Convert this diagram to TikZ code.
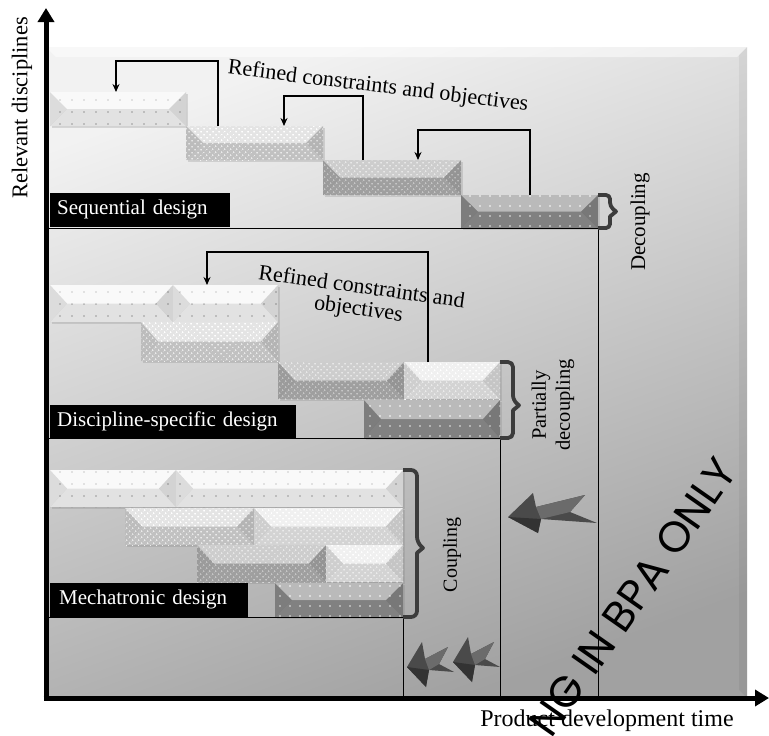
\documentclass[tikz,border=0pt]{standalone}
\usepackage{fontspec}
\setmainfont{Liberation Serif}
\newfontfamily\wmfont{Poppins}
\usepackage{xcolor}
\usetikzlibrary{arrows.meta, positioning, calc, patterns.meta, shadows}
\definecolor{barwhite}{HTML}{F6F6F6}
\definecolor{barmesh}{HTML}{D2D2D2}
\definecolor{barmeshdk}{HTML}{ADADAD}
\definecolor{barmeshlt}{HTML}{E6E6E6}
\definecolor{bardark}{HTML}{8C8C8C}
\definecolor{bracegray}{HTML}{3C3C3C}
\definecolor{dartgray}{HTML}{4A4A4A}

\begin{document}
\begin{tikzpicture}[x=1pt, y=-1pt, font=\fontsize{20}{23}\selectfont,
  barpattern/.style={},
  bar/.style={rectangle, inner sep=0pt, outer sep=0pt, anchor=north west,
    drop shadow={opacity=.25, shadow xshift=1.5pt, shadow yshift=-1.5pt},
    path picture={
      \fill[barpattern] (path picture bounding box.south west) rectangle (path picture bounding box.north east);
      \fill[white, opacity=.4] (path picture bounding box.north west) -- (path picture bounding box.north east)
        -- ([xshift=-17pt]path picture bounding box.east) -- ([xshift=17pt]path picture bounding box.west) -- cycle;
      \fill[black, opacity=.08] (path picture bounding box.south west) -- (path picture bounding box.south east)
        -- ([xshift=-17pt]path picture bounding box.east) -- ([xshift=17pt]path picture bounding box.west) -- cycle;
      \fill[black, opacity=.1] (path picture bounding box.north west) -- ([xshift=17pt]path picture bounding box.west)
        -- (path picture bounding box.south west) -- cycle;
      \fill[black, opacity=.14] (path picture bounding box.north east) -- ([xshift=-17pt]path picture bounding box.east)
        -- (path picture bounding box.south east) -- cycle;
    }},
  lite/.style={fill=barwhite, barpattern/.style={pattern={Dots[distance=12pt, radius=.8pt]}, pattern color=black!35}},
  mesh/.style={fill=barmesh, barpattern/.style={pattern={Dots[distance=4pt, angle=45, radius=1.1pt]}, pattern color=white}},
  meshdk/.style={fill=barmeshdk, barpattern/.style={pattern={Dots[distance=4pt, angle=45, radius=1.1pt]}, pattern color=white!85!black}},
  meshlt/.style={fill=barmeshlt, barpattern/.style={pattern={Dots[distance=4pt, angle=45, radius=1.1pt]}, pattern color=white}},
  dark/.style={fill=bardark, barpattern/.style={pattern={Dots[distance=10pt, radius=.9pt]}, pattern color=white}},
  tag/.style={fill=black, text=white, font=\fontsize{21}{23}\selectfont, inner xsep=7pt,
    minimum height=34pt, align=left, anchor=south west},
  fb/.style={line width=2.2pt, -{Stealth[length=8pt, width=7pt]}},
  brc/.style={line width=3.8pt, draw=bracegray, line join=round},
  sect/.style={line width=1pt},
  ax/.style={line width=5pt, -{Triangle[length=14pt, width=16pt]}},
  dart/.style={fill=dartgray},
  ]
  \useasboundingbox (0,0) rectangle (769,736);

  % background panel
  \shade[top color=black!5, bottom color=black!37, shading angle=20] (46,47) rectangle (747,698);
  \fill[white, opacity=.5] (46,47) -- (747,47) -- (737,57) -- (56,57) -- cycle;
  \fill[black, opacity=.05] (747,47) -- (747,698) -- (739,690) -- (739,55) -- cycle;
  \coordinate (o) at (46,698);

  % bars: name / left / top / width / height / kind
  \foreach \nm/\bx/\by/\bw/\bh/\kind in {
      s1/50/92/136/34/lite, s2/186/126/137/34/mesh, s3/323/160/138/35/meshdk, s4/461/195/137/33/dark,
      d1/50/285/123/37/lite, d2/173/285/105/37/lite, d3/141/322/137/39/mesh,
      d4/278/362/126/37/meshdk, d5/404/362/96/37/meshlt, d6/364/400/136/38/dark,
      m1/50/470/126/37/lite, m2/176/470/227/37/lite, m3/125/508/129/37/mesh, m4/254/508/149/37/meshlt,
      m5/197/545/129/37/meshdk, m6/326/545/77/37/meshlt, m7/275/583/128/34/dark} {
    \node[bar, \kind, minimum width=\bw pt, minimum height=\bh pt] (\nm) at (\bx,\by) {};
  }

  % section frames
  \draw[sect] (o |- s4.south east) -- (s4.south east) -- (s4.south east |- o);
  \draw[sect] (o |- d6.south east) -- (d6.south east) -- (d6.south east |- o);
  \draw[sect] (o |- m7.south east) -- (m7.south east) -- (m7.south east |- o);

  % design labels
  \node[tag, text width=166pt] (seq) at (50,227) {Sequential design};
  \node[tag, text width=232pt] (dsd) at (50,439) {Discipline-specific design};
  \node[tag, text width=180pt, inner xsep=9pt] (mech) at (50,617) {Mechatronic design};

  % feedback loops
  \draw[fb] ([xshift=32pt]s2.north west) -- ++(0,-65) -| ([xshift=66pt]s1.north west);
  \draw[fb] ([xshift=40pt]s3.north west) -- ++(0,-64) -| ([xshift=98pt]s2.north west);
  \draw[fb] ([xshift=69pt]s4.north west) -- ++(0,-65) -| ([xshift=95pt]s3.north west);
  \draw[fb] ([xshift=24pt]d5.north west) -- ++(0,-110) -| ([xshift=34pt]d2.north west);
  \node[rotate=-7, font=\fontsize{22}{24}\selectfont] (ref1) at (378,87) {Refined constraints and objectives};
  \node[rotate=-8, align=center, font=\fontsize{22}{22}\selectfont] (ref2) at (360,299) {Refined constraints and\\objectives};

  % braces
  \coordinate (pmid) at ($(d5.north east)!.57!(d6.south east)$);
  \coordinate (cmid) at ($(m2.north east)!.53!(m7.south east)$);
  \draw[brc] (s4.north east) [rounded corners=4pt] -- ++(12,0) -- ([shift={(12,-5)}]s4.east) [sharp corners]
    -- ++(6,5) -- ++(-6,5) [rounded corners=4pt] -- ([xshift=12pt]s4.south east) -- (s4.south east);
  \draw[brc] (d5.north east) [rounded corners=5pt] -- ++(13,0) -- ([shift={(13,-5)}]pmid) [sharp corners]
    -- ++(6,5) -- ++(-6,5) [rounded corners=5pt] -- ([xshift=13pt]d6.south east) -- (d6.south east);
  \draw[brc] (m2.north east) [rounded corners=6pt] -- ++(14,0) -- ([shift={(14,-5)}]cmid) [sharp corners]
    -- ++(6,5) -- ++(-6,5) [rounded corners=6pt] -- ([xshift=14pt]m7.south east) -- (m7.south east);
  \node[rotate=90, font=\fontsize{21}{23}\selectfont] (dec) at (640,222) {Decoupling};
  \node[rotate=90, align=center, font=\fontsize{20.5}{24}\selectfont] (pdec) at (553,405) {Partially\\decoupling};
  \node[rotate=90] (coup) at (452,555) {Coupling};

  % shortening arrows
  \begin{scope}[shift={(508,517)}]
    \fill[dart] (0,0) -- (25,-24) -- (28,-10) -- (77,-22) -- (62,-5) -- (89,6) -- (33,2) -- (30,16) -- cycle;
    \fill[black!58] (28,-10) -- (77,-22) -- (62,-5) -- (33,2) -- cycle;
    \fill[black!80] (0,0) -- (30,16) -- (33,2) -- cycle;
  \end{scope}
  \foreach \tx/\ty in {407/667, 453/662} {
    \begin{scope}[shift={(\tx,\ty)}]
      \fill[dart] (0,0) -- (15,-25) -- (18,-8) -- (41,-20) -- (32,-3) -- (47,5) -- (22,3) -- (19,20) -- cycle;
      \fill[black!58] (18,-8) -- (41,-20) -- (32,-3) -- (22,3) -- cycle;
      \fill[black!80] (0,0) -- (19,20) -- (22,3) -- cycle;
    \end{scope}
  }

  % axes
  \draw[ax] ([yshift=-2.5pt]o) -- (46,8);
  \draw[ax] ([xshift=-2.5pt]o) -- (769,698);
  \node[rotate=90, font=\fontsize{22.5}{24}\selectfont] (ylab) at (22,108) {Relevant disciplines};
  \node[font=\fontsize{24}{26}\selectfont] (xlab) at (607,721) {Product development time};

  % overlay
  \node[rotate=55, font=\wmfont\fontsize{43}{45}\selectfont] (wm) at (633,597) {NG IN BPA ONLY};
\end{tikzpicture}
\end{document}
